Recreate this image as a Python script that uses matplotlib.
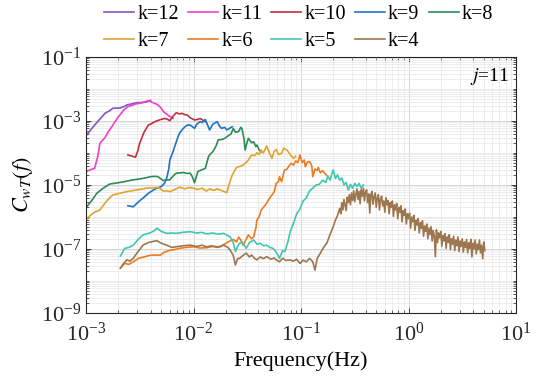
import numpy as np
import matplotlib
matplotlib.use('Agg')
import matplotlib.pyplot as plt
from matplotlib.ticker import LogLocator, NullFormatter

# values, stored as log10(frequency) and log10(C_wT)
k12_logf = [-2.994, -2.95, -2.90, -2.86, -2.82, -2.78, -2.75, -2.71, -2.68, -2.64, -2.62, -2.57, -2.53, -2.48, -2.44, -2.40]
k12_logc = [-3.44, -3.25, -3.05, -2.90, -2.75, -2.68, -2.60, -2.60, -2.59, -2.54, -2.50, -2.46, -2.43, -2.42, -2.41, -2.36]

k11_logf = [-2.994, -2.96, -2.92, -2.89, -2.87, -2.84, -2.82, -2.79, -2.76, -2.73, -2.70, -2.67, -2.65, -2.61,
            -2.57, -2.54, -2.48, -2.44, -2.42, -2.39, -2.36, -2.33, -2.30, -2.28, -2.25, -2.23, -2.19]
k11_logc = [-4.58, -4.52, -4.48, -4.10, -3.69, -3.58, -3.50, -3.32, -3.18, -3.02, -2.87, -2.75, -2.66, -2.55,
            -2.51, -2.47, -2.43, -2.39, -2.36, -2.41, -2.45, -2.50, -2.60, -2.71, -2.78, -2.84, -2.92]

k10_logf = [-2.61, -2.57, -2.54, -2.52, -2.50, -2.46, -2.42, -2.39, -2.36, -2.31, -2.27, -2.24, -2.22, -2.19,
            -2.16, -2.13, -2.11, -2.08, -2.06, -2.03, -1.99, -1.96, -1.94, -1.91, -1.89]
k10_logc = [-4.06, -4.10, -4.13, -3.95, -3.69, -3.35, -3.13, -3.08, -3.02, -2.96, -2.92, -2.95, -2.99, -2.85,
            -2.74, -2.78, -2.76, -2.80, -2.81, -2.90, -2.97, -2.95, -2.92, -2.98, -3.02]

k9_logf = [-2.61, -2.56, -2.51, -2.46, -2.42, -2.36, -2.30, -2.27, -2.25, -2.23, -2.22, -2.19, -2.17, -2.15,
           -2.13, -2.10, -2.08, -2.05, -2.03, -2.01, -1.99, -1.97, -1.94, -1.92, -1.89, -1.87, -1.85, -1.82,
           -1.78, -1.76, -1.74, -1.71, -1.69, -1.66, -1.64]
k9_logc = [-5.65, -5.68, -5.52, -5.38, -5.26, -5.13, -5.05, -4.95, -4.79, -4.50, -4.22, -3.95, -3.75, -3.55,
           -3.38, -3.25, -3.18, -3.12, -3.13, -3.18, -3.23, -3.10, -3.02, -3.05, -2.95, -3.12, -3.28, -3.10,
           -3.02, -3.15, -3.23, -3.20, -3.28, -3.22, -3.18]

k8_logf = [-2.994, -2.95, -2.90, -2.84, -2.78, -2.72, -2.65, -2.58, -2.50, -2.45, -2.40, -2.36, -2.33, -2.30,
           -2.28, -2.25, -2.22, -2.19, -2.16, -2.12, -2.09, -2.06, -2.03, -2.01, -1.99, -1.96, -1.92, -1.89,
           -1.86, -1.84, -1.82, -1.79, -1.77, -1.74, -1.72, -1.70, -1.68, -1.65, -1.63, -1.61, -1.58, -1.56,
           -1.55, -1.53, -1.52, -1.50, -1.49, -1.46, -1.44, -1.42, -1.41, -1.39, -1.37]
k8_logc = [-5.68, -5.50, -5.26, -5.10, -4.97, -4.94, -4.90, -4.85, -4.81, -4.78, -4.74, -4.73, -4.74, -4.82,
           -4.86, -4.84, -4.84, -4.72, -4.63, -4.62, -4.61, -4.64, -4.63, -4.75, -4.93, -4.58, -4.52, -4.48,
           -4.11, -4.02, -3.96, -3.78, -3.59, -3.58, -3.56, -3.52, -3.47, -3.40, -3.23, -3.35, -3.33, -3.20,
           -3.23, -3.55, -3.91, -3.65, -3.54, -3.68, -3.65, -3.80, -3.75, -3.90, -3.96]

k7_logf = [-2.994, -2.96, -2.92, -2.87, -2.82, -2.78, -2.75, -2.70, -2.65, -2.59, -2.52, -2.44, -2.38, -2.33,
           -2.30, -2.28, -2.25, -2.22, -2.18, -2.13, -2.08, -2.04, -2.00, -1.96, -1.92, -1.88, -1.85, -1.81,
           -1.78, -1.75, -1.72, -1.69, -1.67, -1.64, -1.60, -1.57, -1.54, -1.51, -1.49, -1.46, -1.43, -1.41,
           -1.39, -1.37, -1.35, -1.32, -1.30, -1.27, -1.25, -1.23, -1.21, -1.18, -1.16, -1.13, -1.10, -1.07, -1.05]
k7_logc = [-6.07, -5.95, -5.85, -5.78, -5.55, -5.40, -5.31, -5.27, -5.23, -5.19, -5.15, -5.10, -5.09, -5.08,
           -5.14, -5.19, -5.18, -5.21, -5.15, -5.07, -5.12, -5.08, -5.10, -5.14, -5.10, -5.19, -5.12, -5.17,
           -5.12, -5.16, -5.20, -5.24, -5.00, -4.69, -4.45, -4.42, -4.38, -4.30, -4.22, -4.06, -4.08, -3.99,
           -4.05, -3.91, -4.00, -3.78, -3.95, -4.17, -3.95, -3.89, -4.05, -4.01, -3.85, -3.91, -4.05, -4.17, -4.10]

k6_logf = [-2.68, -2.64, -2.60, -2.56, -2.51, -2.46, -2.41, -2.37, -2.31, -2.27, -2.23, -2.18, -2.13, -2.07,
           -2.00, -1.94, -1.88, -1.82, -1.75, -1.69, -1.66, -1.63, -1.60, -1.58, -1.56, -1.54, -1.51, -1.49,
           -1.46, -1.44, -1.42, -1.41, -1.39, -1.37, -1.35, -1.32, -1.30, -1.27, -1.25, -1.23, -1.21, -1.20,
           -1.18, -1.16, -1.15, -1.13, -1.11, -1.09, -1.07, -1.05, -1.03, -1.01, -0.99, -0.97, -0.96, -0.94,
           -0.92, -0.90, -0.89, -0.87, -0.85, -0.84, -0.82, -0.80, -0.78, -0.76]
k6_logc = [-7.60, -7.45, -7.48, -7.40, -7.29, -7.25, -7.20, -7.19, -7.19, -7.10, -7.05, -7.02, -6.98, -6.95,
           -6.93, -6.97, -6.96, -6.92, -6.93, -6.80, -6.75, -6.70, -6.78, -6.63, -6.72, -6.88, -6.70, -6.56,
           -6.68, -6.62, -6.35, -6.09, -6.00, -5.78, -5.70, -5.57, -5.45, -5.31, -5.22, -4.95, -4.90, -4.74,
           -4.90, -4.60, -4.53, -4.50, -4.40, -4.32, -4.38, -4.25, -4.30, -4.06, -4.30, -4.22, -4.43, -4.28,
           -4.27, -4.40, -4.74, -4.50, -4.55, -4.45, -4.62, -4.55, -4.63, -4.70]

k5_logf = [-2.68, -2.64, -2.60, -2.56, -2.52, -2.47, -2.43, -2.40, -2.37, -2.34, -2.30, -2.25, -2.20, -2.16,
           -2.10, -2.03, -1.97, -1.92, -1.88, -1.82, -1.77, -1.72, -1.66, -1.63, -1.61, -1.58, -1.55, -1.51,
           -1.48, -1.44, -1.41, -1.38, -1.35, -1.32, -1.29, -1.26, -1.23, -1.20, -1.17, -1.15, -1.12, -1.10,
           -1.07, -1.04, -1.01, -0.98, -0.95, -0.92, -0.89, -0.86, -0.83, -0.80, -0.77, -0.75, -0.73, -0.71,
           -0.70, -0.68, -0.66, -0.64, -0.62, -0.60, -0.58, -0.56, -0.54, -0.52, -0.50, -0.48, -0.46, -0.44, -0.42]
k5_logc = [-7.22, -6.98, -6.95, -6.88, -6.72, -6.56, -6.52, -6.49, -6.44, -6.35, -6.45, -6.51, -6.50, -6.51,
           -6.48, -6.46, -6.50, -6.48, -6.53, -6.50, -6.54, -6.51, -6.62, -6.80, -7.08, -6.85, -6.77, -6.98,
           -6.80, -6.72, -6.85, -6.82, -6.90, -6.88, -6.95, -6.98, -7.10, -7.29, -7.05, -7.08, -6.75, -6.45,
           -6.20, -5.90, -5.75, -5.50, -5.40, -5.18, -5.10, -5.00, -4.98, -4.85, -4.92, -4.72, -4.85, -4.62,
           -4.53, -4.80, -4.68, -4.85, -4.78, -5.00, -4.92, -5.16, -4.98, -5.10, -4.95, -5.05, -4.95, -5.10, -5.00]

# k=4: low-frequency part, then the noisy tail read point by point (step 0.01 in log f)
k4_low_logf = [-2.68, -2.65, -2.62, -2.59, -2.56, -2.52, -2.47, -2.42, -2.37, -2.34, -2.30, -2.25, -2.20, -2.16,
               -2.10, -2.03, -1.97, -1.92, -1.88, -1.83, -1.78, -1.72, -1.68, -1.66, -1.63, -1.61, -1.59, -1.57,
               -1.54, -1.51, -1.48, -1.46, -1.43, -1.41, -1.38, -1.35, -1.32, -1.28, -1.25, -1.23, -1.20, -1.17,
               -1.14, -1.10, -1.07, -1.04, -1.01, -0.98, -0.95, -0.92, -0.89, -0.87, -0.85, -0.82, -0.79, -0.76,
               -0.73, -0.70, -0.68, -0.66]
k4_low_logc = [-7.60, -7.45, -7.34, -7.38, -7.29, -7.10, -6.88, -6.80, -6.76, -6.74, -6.82, -6.88, -6.95, -6.93,
               -6.90, -6.88, -6.92, -6.88, -6.93, -6.90, -6.95, -6.88, -6.95, -7.03, -7.20, -7.50, -7.30, -7.29,
               -7.20, -7.13, -7.25, -7.19, -7.30, -7.34, -7.25, -7.30, -7.24, -7.32, -7.28, -7.34, -7.40, -7.29,
               -7.36, -7.34, -7.38, -7.32, -7.45, -7.35, -7.40, -7.29, -7.40, -7.66, -7.30, -7.13, -6.95, -6.82,
               -6.55, -6.30, -6.10, -5.95]
k4_tail_logf = [round(-0.64 + 0.01 * i, 2) for i in range(136)]
k4_tail_logc = [-5.73, -5.90, -5.55, -5.78, -5.45, -5.62, -5.80, -5.38, -5.55, -5.30,
                -5.62, -5.25, -5.48, -5.18, -5.52, -5.30, -5.12, -5.45, -5.20, -5.58,
                -5.15, -5.35, -5.10, -5.50, -5.22, -5.15, -5.55, -5.28, -5.88, -5.30,
                -5.20, -5.60, -5.35, -5.25, -5.70, -5.40, -5.30, -5.78, -5.45, -5.35,
                -5.65, -5.50, -5.85, -5.40, -5.62, -5.48, -5.90, -5.55, -5.70, -5.50,
                -5.98, -5.62, -5.78, -5.58, -6.05, -5.70, -5.85, -5.65, -6.15, -5.80,
                -5.95, -5.75, -6.22, -5.90, -6.05, -5.88, -6.35, -6.00, -6.15, -5.95,
                -6.42, -6.10, -6.25, -6.05, -6.50, -6.18, -6.35, -6.12, -6.60, -6.28,
                -6.45, -6.22, -6.68, -6.35, -6.55, -6.30, -6.75, -6.42, -6.60, -7.24,
                -6.40, -6.80, -6.50, -6.65, -6.45, -6.92, -6.58, -6.75, -6.52, -6.98,
                -6.62, -6.80, -6.55, -7.02, -6.68, -6.85, -6.60, -7.05, -6.72, -6.90,
                -6.62, -7.08, -6.75, -6.92, -6.68, -7.10, -6.78, -6.95, -6.70, -7.12,
                -6.80, -6.98, -6.70, -7.25, -6.82, -7.00, -6.72, -7.15, -6.85, -7.02,
                -6.72, -7.12, -6.88, -7.30, -6.78, -7.05]
k4_logf = k4_low_logf + k4_tail_logf
k4_logc = k4_low_logc + k4_tail_logc

labels = ['k=12', 'k=11', 'k=10', 'k=9', 'k=8', 'k=7', 'k=6', 'k=5', 'k=4']
colors = ['#7E57C2', '#F23FC8', '#C0303C', '#1F74C4', '#2E8B57', '#E0A52E', '#F07A1E', '#3FC8B0', '#9C774F']
logf_all = [k12_logf, k11_logf, k10_logf, k9_logf, k8_logf, k7_logf, k6_logf, k5_logf, k4_logf]
logc_all = [k12_logc, k11_logc, k10_logc, k9_logc, k8_logc, k7_logc, k6_logc, k5_logc, k4_logc]

plt.rcParams['font.family'] = ['Liberation Serif', 'DejaVu Serif']
plt.rcParams['mathtext.fontset'] = 'stix'

fig = plt.figure(figsize=(5.39, 3.89), dpi=100)
ax = fig.add_axes([86/539, 1-313/389, 430/539, 256/389])

lines = []
for lf, lc, col, lab in zip(logf_all, logc_all, colors, labels):
    l, = ax.plot(10**np.array(lf), 10**np.array(lc), color=col, lw=1.2, label=lab)
    lines.append(l)

ax.set_xscale('log')
ax.set_yscale('log')
ax.set_xlim(1e-3, 1e1)
ax.set_ylim(1e-9, 1e-1)
ax.set_yticks([1e-9, 1e-7, 1e-5, 1e-3, 1e-1])
ax.yaxis.set_minor_locator(LogLocator(base=10, subs=np.arange(1, 10), numticks=100))
ax.yaxis.set_minor_formatter(NullFormatter())
ax.xaxis.set_minor_locator(LogLocator(base=10, subs=np.arange(2, 10), numticks=100))
ax.xaxis.set_minor_formatter(NullFormatter())

ax.set_axisbelow(True)
ax.grid(True, which='major', color='#d0d0d0', lw=0.6)
ax.grid(True, which='minor', color='#e6e6e6', lw=0.5)
ax.tick_params(which='both', direction='in', top=True, right=True, labelsize=16, colors='#262626')
ax.tick_params(which='major', length=3.5, width=0.6)
ax.tick_params(which='minor', length=2, width=0.5)
ax.tick_params(axis='x', which='major', pad=7)
for s in ax.spines.values():
    s.set_color('#262626')
    s.set_linewidth(0.8)

ax.set_xlabel('Frequency(Hz)', fontsize=16, labelpad=4)
ax.set_ylabel('$C_{wT}(f)$', fontsize=16, labelpad=4)
ax.text(0.985, 0.922, '$j$=11', transform=ax.transAxes, ha='right', va='center', fontsize=14)

# legend in two rows above the axes (row-major order)
order = [0, 5, 1, 6, 2, 7, 3, 8, 4]
fig.legend([lines[i] for i in order], [labels[i] for i in order], ncol=5, loc='upper left',
           bbox_to_anchor=(104/539, 1-5/389), frameon=False, fontsize=14.5, handlelength=1.5,
           handletextpad=0.15, columnspacing=0.45, labelspacing=0.4, borderpad=0, borderaxespad=0)

fig.savefig('out.png', dpi=100)
